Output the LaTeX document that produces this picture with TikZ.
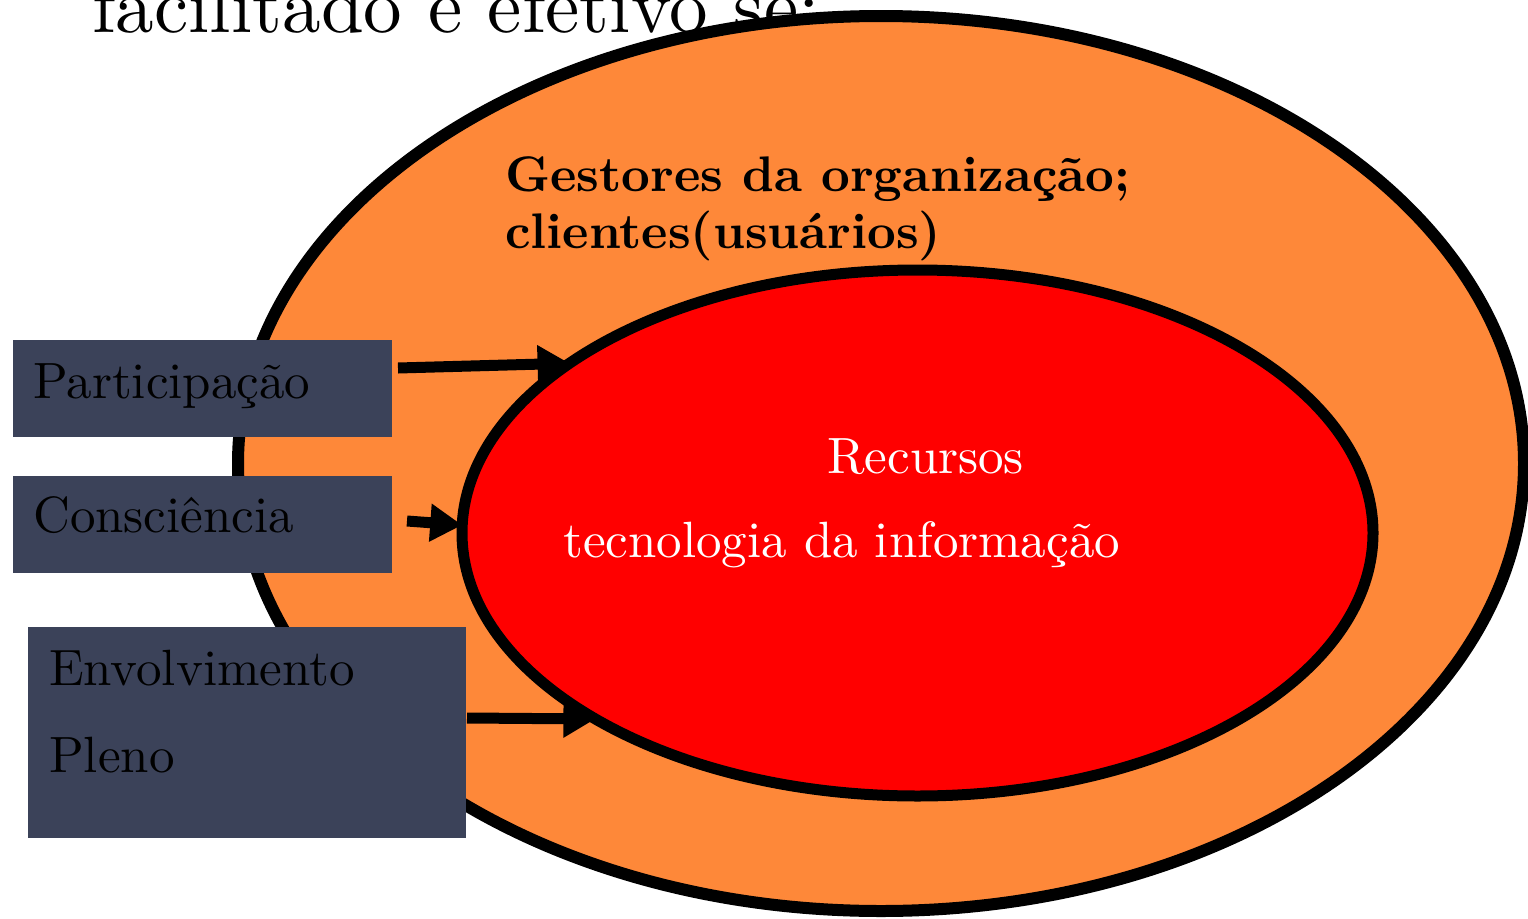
\documentclass[tikz,border=0pt]{standalone}
\usepackage{fontspec}
\setmainfont{lmroman10-regular.otf}[BoldFont=lmroman10-bold.otf]
\usetikzlibrary{arrows.meta,shapes.geometric}
\definecolor{boxc}{HTML}{3B4259}
\definecolor{orangec}{HTML}{FE8839}
\definecolor{redc}{HTML}{FF0000}
\begin{document}
\begin{tikzpicture}[x=1pt,y=-1pt,
  box/.style={fill=boxc, draw=none, inner sep=0pt, anchor=north west},
  lbl/.style={anchor=base west, inner sep=0pt, font=\fontsize{51}{58}\selectfont},
  blbl/.style={anchor=base west, inner sep=0pt, font=\fontsize{50}{58}\selectfont\bfseries},
  wlbl/.style={anchor=base west, inner sep=0pt, text=white, font=\fontsize{51}{58}\selectfont},
  ring/.style={ellipse, draw=black, line width=12pt, outer sep=0pt, inner sep=0pt},
  conn/.style={line width=11pt, -{Triangle[length=32pt,width=36pt]}}]
\useasboundingbox (0,0) rectangle (1528,918);
\node[anchor=base west, inner sep=0pt, font=\fontsize{77}{90}\selectfont] (title) at (92,32) {facilitado e efetivo se:};
\node[ring, fill=orangec, minimum width=1286pt, minimum height=895pt] (outer) at (881,463.5) {};
\node[blbl] (g1) at (505,191) {Gestores da organização;};
\node[blbl] (g2) at (505,248) {clientes(usuários)};
\node[ring, fill=redc, line width=11pt, minimum width=911pt, minimum height=526pt] (core) at (917.5,533) {};
\node[wlbl] (rec) at (827,473) {Recursos};
\node[wlbl] (ti) at (563,557) {tecnologia da informação};
\node[box, minimum width=379pt, minimum height=97pt] (p) at (13,340) {};
\node[lbl] (pt) at (33,398) {Participação};
\node[box, minimum width=379pt, minimum height=97pt] (c) at (13,476) {};
\node[lbl] (ct) at (33,532) {Consciência};
\node[box, minimum width=438pt, minimum height=211pt] (e) at (28,627) {};
\node[lbl] (et1) at (49,685) {Envolvimento};
\node[lbl] (et2) at (49,772) {Pleno};
\coordinate (s1) at (398,368);
\coordinate (s2) at (407,521);
\coordinate (s3) at (467,718);
\draw[conn] (s1) -- (core.154.3);
\draw[conn] (s2) -- (core.179);
\draw[conn] (s3) -- (core.210.5);
\end{tikzpicture}
\end{document}
